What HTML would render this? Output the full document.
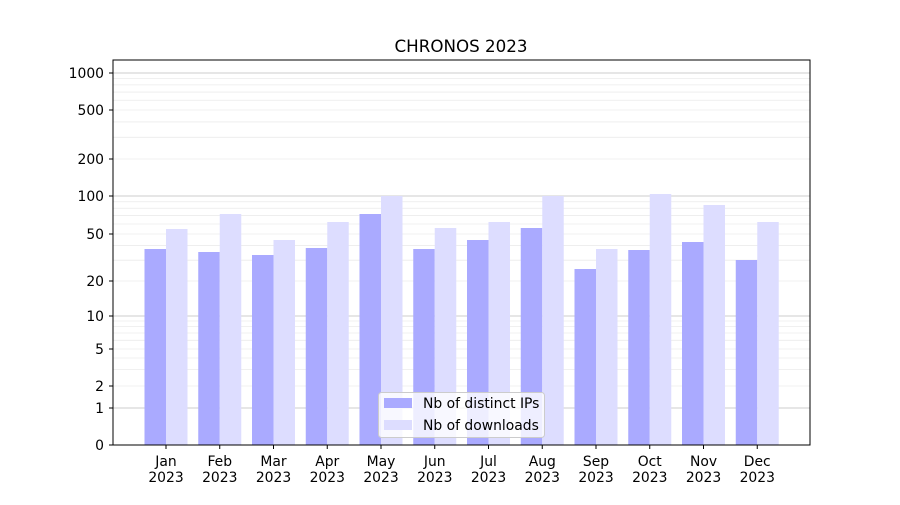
<!DOCTYPE html>
<html><head><meta charset="utf-8"><style>
body{margin:0;background:#fff;}
svg text{font-family:"DejaVu Sans","Liberation Sans",sans-serif;}
</style></head><body>
<svg id="s" width="900" height="500" xmlns="http://www.w3.org/2000/svg">
<rect width="900" height="500" fill="#fff"/>
</svg>
<script>
const s=document.getElementById('s');let h='';
const V=[1,2,5,10,20,50,100,200,500,1000],Y=[408,386,349,316,281,234,196,159,110,73];
function ym(v){if(v<=1)return 445-37*v;for(let i=0;i<V.length-1;i++){if(v<=V[i+1]){const t=(Math.log10(v)-Math.log10(V[i]))/(Math.log10(V[i+1])-Math.log10(V[i]));return Y[i]+t*(Y[i+1]-Y[i]);}}return 73;}
for(let d of [1,10,100,1000]){for(let m=2;m<=9;m++){const v=d*m;if(v>1100)break;const y=ym(v);h+=`<line x1="113" x2="810" y1="${y}" y2="${y}" stroke="#ebebeb" stroke-width="0.8"/>`;}}
for(let v of [1,10,100,1000]){const y=ym(v);h+=`<line x1="113" x2="810" y1="${y}" y2="${y}" stroke="#bbb" stroke-width="0.8"/>`;}
const ip=[249,252,255,248,214,249,240,228,269,250,242,260],dl=[229,214,240,222,196,228,222,196,249,194,205,222];
const mo=['Jan','Feb','Mar','Apr','May','Jun','Jul','Aug','Sep','Oct','Nov','Dec'];
for(let i=0;i<12;i++){const c=166+i*53.75;
h+=`<rect x="${c-21.5}" y="${ip[i]}" width="21.5" height="${445-ip[i]}" fill="#aaaaff"/>`;
h+=`<rect x="${c}" y="${dl[i]}" width="21.5" height="${445-dl[i]}" fill="#ddddff"/>`;
h+=`<line x1="${c}" x2="${c}" y1="445" y2="449" stroke="#000"/>`;
h+=`<text x="${c}" y="466" font-size="13.9" text-anchor="middle">${mo[i]}</text><text x="${c}" y="482" font-size="13.9" text-anchor="middle">2023</text>`;}
const yl=[0,1,2,5,10,20,50,100,200,500,1000];
for(const v of yl){const y=v==0?445:ym(v);h+=`<line x1="109" x2="113" y1="${y}" y2="${y}" stroke="#000"/><text x="104" y="${y+5}" font-size="13.9" text-anchor="end">${v}</text>`;}
h+=`<rect x="113" y="60" width="697" height="385" fill="none" stroke="#000" stroke-width="1"/>`;
h+=`<text x="461" y="52" font-size="16.7" text-anchor="middle">CHRONOS 2023</text>`;
h+=`<rect x="378.5" y="392.5" width="166" height="45" rx="3" fill="#fff" fill-opacity="0.8" stroke="#ccc"/>`;
h+=`<rect x="384" y="398" width="28" height="10" fill="#aaaaff"/><text x="423" y="408" font-size="13.9">Nb of distinct IPs</text>`;
h+=`<rect x="384" y="420" width="28" height="10" fill="#ddddff"/><text x="423" y="430" font-size="13.9">Nb of downloads</text>`;
s.innerHTML+=h;
</script>
</body></html>
